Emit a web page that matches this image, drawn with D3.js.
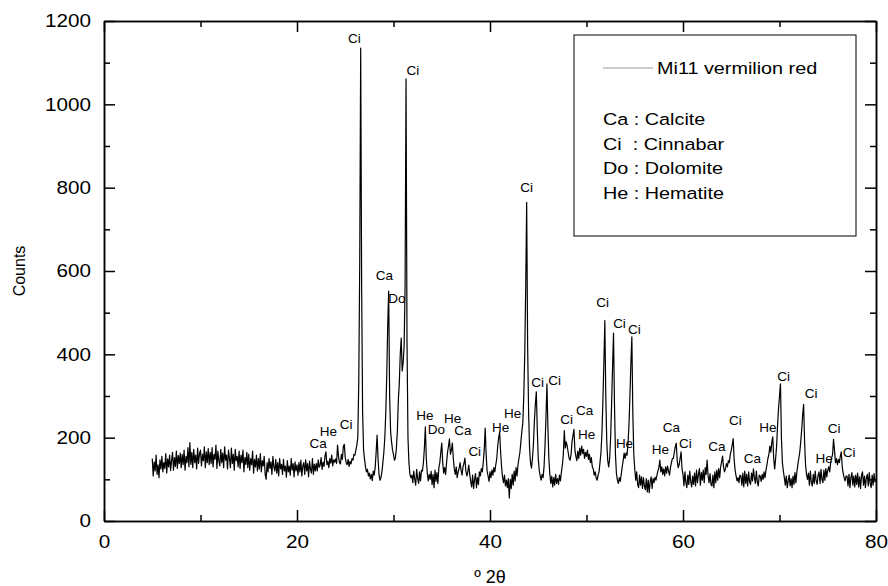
<!DOCTYPE html>
<html>
<head>
<meta charset="utf-8">
<script src="https://cdn.jsdelivr.net/npm/d3@7"></script>
<style>
  body { margin: 0; background: #fff; }
  svg { display: block; font-family: "Liberation Sans", Arial, sans-serif; }
  .axis path, .axis line { stroke: #000; stroke-width: 1.5; }
  .axis text { font-size: 18px; fill: #000; }
</style>
</head>
<body>
<svg id="xrd" width="888" height="586"></svg>
<script>
"use strict";

// counts, 0.1 deg steps, one row per degree
var seg05 = [
  150,108,142,120,158,112,135,104,147,125,
  155,118,140,126,162,115,149,130,158,121,
  145,165,122,152,131,168,126,157,138,163,
  128,160,135,170,122,155,140,176,130,188,
  136,165,128,172,140,158,125,175,138,162,
  170,132,160,145,178,128,166,140,174,135,
  165,138,176,130,160,148,182,126,168,145,
  132,172,140,163,128,178,146,158,125,170,
  150,128,175,138,160,122,172,145,155,130,
  168,126,158,140,170,118,152,136,165,128,
  160,122,150,135,168,115,148,130,158,120,
  150,125,162,118,145,132,155,112,100,140,
  118,150,126,142,112,155,130,120,148,115,
  140,108,150,125,136,112,148,120,132,105,
  145,118,132,110,150,122,138,106,142,120
];
var seg20 = [
  135,110,140,118,146,108,132,140,112,147,
  120,138,106,144,124,115,150,112,136,120,
  138,120,147,129,134,152,124,141,131,156,
  166,135,143,128,150,139,158,132,147,141,
  149,138,182,155,140,137,160,148,178,184,
  152,140,135,148,131,143,137,150,146,160,
  158,170,182,200,330,620,1135,560,260,170,
  148,130,118,124,108,115,101,112,97,120,
  110,128,165,206,148,112,98,104,118,140,
  165,200,260,350,470,552,300,215,190,170
];
var seg30 = [
  160,146,152,175,215,290,330,400,439,360,
  380,420,560,1061,430,200,140,112,104,110,
  92,120,100,86,124,102,90,118,96,122,
  120,140,175,226,150,115,96,112,100,119,
  88,112,80,122,95,116,90,128,140,165,
  187,140,115,128,112,140,165,180,197,160,
  170,187,150,125,112,130,104,118,126,140,
  122,110,130,138,151,120,108,118,134,112,
  95,82,110,78,100,114,80,104,88,118,
  108,126,118,140,170,223,160,120,108,95
];
var seg40 = [
  118,104,122,110,128,118,135,150,180,200,
  214,165,130,105,92,110,84,98,80,102,
  55,100,78,112,86,120,96,128,108,135,
  150,165,190,215,235,300,400,560,765,420,
  260,175,140,127,150,185,240,280,310,220,
  150,122,108,98,112,104,130,180,250,329,
  225,150,112,90,108,82,104,86,112,90,
  102,88,110,96,118,135,160,217,175,190,
  180,165,150,146,160,190,205,220,170,155,
  145,168,150,175,158,180,162,172,150,165
];
var seg50 = [
  155,170,148,160,140,152,130,125,110,118,
  104,98,110,118,140,165,210,290,380,481,
  300,190,145,130,150,200,280,370,451,280,
  160,115,98,90,104,95,112,130,145,163,
  150,163,158,185,230,300,380,442,260,160,
  125,98,118,88,80,110,86,106,78,104,
  84,75,102,70,98,68,94,106,78,102,
  92,105,98,110,120,128,146,118,130,112,
  125,108,130,115,132,120,110,128,140,150,
  150,165,178,187,145,128,135,150,166,125
];
var seg60 = [
  112,85,118,92,80,110,88,120,95,82,
  108,88,115,84,122,92,112,126,86,116,
  98,122,92,128,112,146,108,92,114,88,
  84,110,80,118,92,122,98,126,104,130,
  142,156,130,118,125,138,130,145,140,160,
  170,182,198,148,122,108,96,104,92,110,
  108,86,115,82,120,90,112,84,118,94,
  88,115,96,125,104,90,120,94,84,110,
  108,95,112,100,118,104,122,135,150,160,
  180,165,188,202,150,125,150,180,230,270
];
var seg70 = [
  300,329,200,140,120,104,86,108,80,96,
  110,84,102,80,108,88,116,92,118,135,
  150,165,190,220,255,280,190,135,112,100,
  115,86,120,92,84,112,90,120,96,88,
  110,118,90,124,100,92,122,98,126,106,
  122,130,118,140,151,160,196,170,140,150,
  135,148,140,155,166,130,115,104,96,108,
  108,84,112,80,104,116,86,108,82,110,
  88,115,82,106,78,110,118,86,108,80,
  104,112,84,116,90,80,110,86,114,94,
  96
];
var segStarts = [5, 20, 30, 40, 50, 60, 70];

var xMajor = [0, 20, 40, 60, 80];
var xMinor = [10, 30, 50, 70];
var yMajor = [0, 200, 400, 600, 800, 1000, 1200];
var yMinor = [100, 300, 500, 700, 900, 1100];

// phase labels: text, 2theta, counts of the label baseline
var labelText = ['Ci','Ci','Ca','Do','Ca','He','Ci','He','Do','He','Ca','Ci',
  'He','He','Ci','Ci','Ci','Ci','Ca','He','Ci','Ci','Ci','He','He','Ca','Ci',
  'Ca','Ci','Ca','He','Ci','Ci','Ci','He','Ci'];
var labelTheta = [25.95,32.0,29.06,30.35,22.2,23.25,25.08,33.25,34.44,36.14,37.18,38.42,
  41.11,42.35,43.8,44.94,46.7,47.94,49.8,50.01,51.66,53.42,54.97,53.94,57.66,58.8,60.25,
  63.5,65.42,67.18,68.8,70.44,73.28,75.66,74.62,77.21];
var labelCounts = [1147,1070,578,523,175,205,221,242,209,235,206,156,
  214,247,790,322,326,233,254,197,514,463,449,175,161,214,175,
  168,230,139,214,336,295,211,139,154];

var seriesName = 'Mi11 vermilion red';
var phaseKey = ['Ca : Calcite', 'Ci  : Cinnabar', 'Do : Dolomite', 'He : Hematite'];

function make_chart() {
  var svg = d3.select('#xrd');
  var margin = { top: 21, left: 104 };
  var width = 772, height = 500;

  var plot = svg.append('g')
    .attr('transform', 'translate(' + margin.left + ',' + margin.top + ')');

  var _x = d3.scaleLinear().domain([0, 80]).range([0, width]);
  var _y = d3.scaleLinear().domain([0, 1200]).range([height, 0]);

  var segs = [seg05, seg20, seg30, seg40, seg50, seg60, seg70];
  var scan = [];
  segs.forEach(function (s, k) {
    s.forEach(function (c, i) {
      scan.push({ tt: segStarts[k] + i / 10, counts: c });
    });
  });

  var valueline = d3.line()
    .x(function (d) { return _x(d.tt); })
    .y(function (d) { return _y(d.counts); });

  plot.append('path')
    .datum(scan)
    .attr('fill', 'none')
    .attr('stroke', '#000')
    .attr('stroke-width', 1.2)
    .attr('stroke-linejoin', 'round')
    .attr('d', valueline);

  // axes, ticks pointing inward on all four sides
  var fmt = d3.format('d');
  var bottom = plot.append('g').attr('class', 'axis')
    .attr('transform', 'translate(0,' + height + ')')
    .call(d3.axisBottom(_x).tickValues(xMajor).tickSize(-11).tickSizeOuter(0).tickPadding(14).tickFormat(fmt));
  plot.append('g').attr('class', 'axis')
    .attr('transform', 'translate(0,' + height + ')')
    .call(d3.axisBottom(_x).tickValues(xMinor).tickSize(-6).tickSizeOuter(0).tickFormat(''));
  plot.append('g').attr('class', 'axis')
    .call(d3.axisTop(_x).tickValues(xMajor).tickSize(-11).tickSizeOuter(0).tickFormat(''));
  plot.append('g').attr('class', 'axis')
    .call(d3.axisTop(_x).tickValues(xMinor).tickSize(-6).tickSizeOuter(0).tickFormat(''));

  var left = plot.append('g').attr('class', 'axis')
    .call(d3.axisLeft(_y).tickValues(yMajor).tickSize(-11).tickSizeOuter(0).tickPadding(11.3).tickFormat(fmt));
  plot.append('g').attr('class', 'axis')
    .call(d3.axisLeft(_y).tickValues(yMinor).tickSize(-6).tickSizeOuter(0).tickFormat(''));
  plot.append('g').attr('class', 'axis')
    .attr('transform', 'translate(' + width + ',0)')
    .call(d3.axisRight(_y).tickValues(yMajor).tickSize(-11).tickSizeOuter(0).tickFormat(''));
  plot.append('g').attr('class', 'axis')
    .attr('transform', 'translate(' + width + ',0)')
    .call(d3.axisRight(_y).tickValues(yMinor).tickSize(-6).tickSizeOuter(0).tickFormat(''));

  // the original tick font is a little wider than Arial
  bottom.selectAll('text').attr('transform', 'scale(1.15,1)');
  left.selectAll('text').attr('transform', 'scale(1.15,1)');

  // peak labels
  plot.selectAll('.peak')
    .data(labelText)
    .enter().append('text')
    .attr('class', 'peak')
    .attr('x', function (d, i) { return _x(labelTheta[i]); })
    .attr('y', function (d, i) { return _y(labelCounts[i]); })
    .attr('text-anchor', 'middle')
    .attr('font-size', 13.5)
    .text(function (d) { return d; });

  // axis titles
  svg.append('text')
    .attr('transform', 'translate(25,' + (margin.top + height / 2) + ') rotate(-90)')
    .attr('text-anchor', 'middle')
    .attr('font-size', 16)
    .text('Counts');
  svg.append('text')
    .attr('x', margin.left + width / 2)
    .attr('y', 583)
    .attr('text-anchor', 'middle')
    .attr('font-size', 18)
    .text('\u00ba 2\u03b8');

  // legend box
  var lg = svg.append('g').attr('transform', 'translate(574,35)');
  lg.append('rect')
    .attr('width', 282).attr('height', 201)
    .attr('fill', '#fff').attr('stroke', '#000').attr('stroke-width', 1);
  lg.append('line')
    .attr('x1', 29).attr('x2', 79).attr('y1', 33).attr('y2', 33)
    .attr('stroke', '#999').attr('stroke-width', 1);
  lg.append('text')
    .attr('transform', 'translate(83,39) scale(1.2,1)')
    .attr('font-size', 16.5)
    .text(seriesName);
  lg.selectAll('.key')
    .data(phaseKey)
    .enter().append('text')
    .attr('class', 'key')
    .attr('transform', function (d, i) { return 'translate(29,' + (90 + i * 24.5) + ') scale(1.2,1)'; })
    .attr('font-size', 16.5)
    .style('white-space', 'pre')
    .text(function (d) { return d; });
}

make_chart();
</script>
</body>
</html>
